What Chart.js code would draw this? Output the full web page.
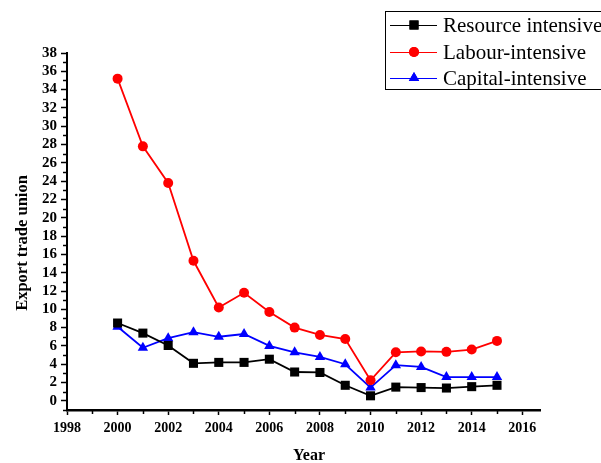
<!DOCTYPE html>
<html>
<head>
<meta charset="utf-8">
<script src="https://cdn.jsdelivr.net/npm/chart.js@4/dist/chart.umd.min.js"></script>
<style>
  body { margin: 0; background: #fff; }
  canvas { display: block; }
</style>
</head>
<body>
<canvas id="myChart" width="601" height="463"></canvas>
<script>
// Data
const years = [2000, 2001, 2002, 2003, 2004, 2005, 2006, 2007, 2008, 2009, 2010, 2011, 2012, 2013, 2014, 2015];
const resourceValues = [8.5, 7.4, 6.05, 4.1, 4.2, 4.2, 4.55, 3.15, 3.1, 1.7, 0.55, 1.5, 1.45, 1.4, 1.55, 1.7];
const labourValues = [35.2, 27.8, 23.8, 15.3, 10.2, 11.8, 9.7, 8.0, 7.2, 6.75, 2.25, 5.3, 5.4, 5.35, 5.6, 6.55];
const capitalValues = [8.1, 5.8, 6.85, 7.5, 7.0, 7.3, 6.0, 5.3, 4.8, 4.0, 1.45, 3.9, 3.7, 2.6, 2.6, 2.6];
const seriesNames = ["Resource intensive", "Labour-intensive", "Capital-intensive"];
const xTicks = [1998, 2000, 2002, 2004, 2006, 2008, 2010, 2012, 2014, 2016];
const yTicks = [0, 2, 4, 6, 8, 10, 12, 14, 16, 18, 20, 22, 24, 26, 28, 30, 32, 34, 36, 38];

const serif = "'Liberation Serif', 'Times New Roman', serif";

function pts(vals) {
  return vals.map((v, i) => ({ x: years[i], y: v }));
}

function series(label, vals, color, shape, radius) {
  return {
    label: label,
    data: pts(vals),
    borderColor: color,
    backgroundColor: color,
    borderWidth: 1.8,
    pointStyle: shape,
    pointRadius: radius,
    pointBorderWidth: 0,
    pointBackgroundColor: color,
    tension: 0
  };
}

// minor ticks, axis titles and the boxed legend
const extras = {
  id: 'extras',
  afterDraw(chart) {
    const c = chart.ctx;
    const xs = chart.scales.x, ys = chart.scales.y;
    const area = chart.chartArea;
    c.save();
    c.strokeStyle = '#000';
    c.lineWidth = 1.5;
    for (let v = -1; v <= 37; v += 2) {
      const py = Math.round(ys.getPixelForValue(v)) + 0.5;
      c.beginPath(); c.moveTo(area.left - 4, py); c.lineTo(area.left, py); c.stroke();
    }
    for (let v = 1999; v <= 2015; v += 2) {
      const px = Math.round(xs.getPixelForValue(v)) + 0.5;
      c.beginPath(); c.moveTo(px, area.bottom); c.lineTo(px, area.bottom + 4); c.stroke();
    }

    // axis titles
    c.fillStyle = '#000';
    c.font = 'bold 16px ' + serif;
    c.textAlign = 'center';
    c.textBaseline = 'middle';
    c.fillText('Year', 309, 456);
    c.translate(23, 243);
    c.rotate(-Math.PI / 2);
    c.font = 'bold 16.5px ' + serif;
    c.fillText('Export trade union', 0, 0);
    c.restore();

    // legend box
    c.save();
    c.strokeStyle = '#000';
    c.lineWidth = 1;
    c.strokeRect(385.5, 11.5, 230, 78);
    const rows = [25, 52, 78];
    c.font = '21px ' + serif;
    c.textBaseline = 'middle';
    c.textAlign = 'left';
    chart.data.datasets.forEach((ds, i) => {
      const y = rows[i];
      c.strokeStyle = ds.borderColor;
      c.lineWidth = 1;
      c.beginPath(); c.moveTo(390, y + 0.5); c.lineTo(437, y + 0.5); c.stroke();
      c.fillStyle = ds.borderColor;
      Chart.helpers.drawPoint(c, { pointStyle: ds.pointStyle, radius: ds.pointRadius, borderWidth: 0 }, 414, y);
      c.fill();
      c.fillStyle = '#000';
      c.fillText(ds.label, 443, y + 1);
    });
    c.restore();
  }
};

const ctx = document.getElementById('myChart');

new Chart(ctx, {
  type: 'line',
  data: {
    datasets: [
      series(seriesNames[0], resourceValues, '#000000', 'rect', 6.4),
      series(seriesNames[1], labourValues, '#ff0000', 'circle', 5),
      series(seriesNames[2], capitalValues, '#0000ff', 'triangle', 6)
    ]
  },
  options: {
    responsive: false,
    animation: false,
    layout: { padding: { left: 0, top: 53, right: 61, bottom: 0 } },
    plugins: {
      legend: { display: false },
      tooltip: { enabled: false }
    },
    scales: {
      x: {
        type: 'linear',
        min: 1998,
        max: 2016.7,
        afterFit: (s) => { s.height = 53; },
        afterBuildTicks: (s) => { s.ticks = xTicks.map(v => ({ value: v })); },
        grid: { drawOnChartArea: false, tickLength: 5, tickWidth: 1.5, tickColor: '#000' },
        border: { color: '#000', width: 2.5 },
        ticks: {
          color: '#000',
          padding: 5,
          autoSkip: false,
          maxRotation: 0,
          font: { family: serif, size: 14, weight: 'bold' },
          callback: (v) => String(v)
        }
      },
      y: {
        min: -1,
        max: 38,
        afterFit: (s) => { s.width = 67; },
        afterBuildTicks: (s) => { s.ticks = yTicks.map(v => ({ value: v })); },
        grid: { drawOnChartArea: false, tickLength: 6, tickWidth: 1.5, tickColor: '#000' },
        border: { color: '#000', width: 2 },
        ticks: {
          color: '#000',
          padding: 4,
          autoSkip: false,
          font: { family: serif, size: 15, weight: 'bold' },
          callback: (v) => String(v)
        }
      }
    }
  },
  plugins: [extras]
});
</script>
</body>
</html>
